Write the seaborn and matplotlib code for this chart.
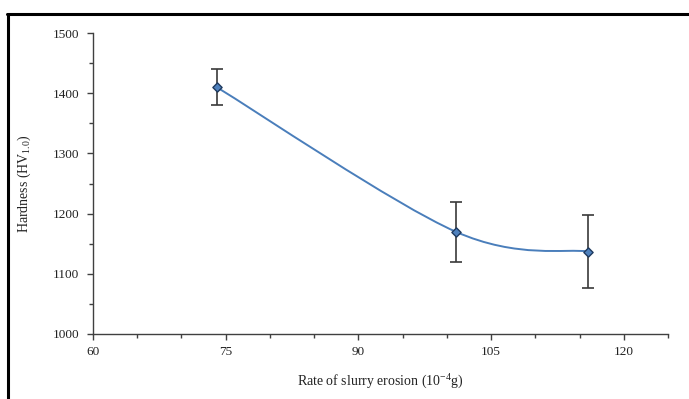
import numpy as np
import pandas as pd
import matplotlib
matplotlib.use("Agg")
import matplotlib.pyplot as plt
import seaborn as sns
from matplotlib.path import Path
from matplotlib.patches import PathPatch
from matplotlib.lines import Line2D
from matplotlib.ticker import MultipleLocator

# Data
erosion_rate = [74, 101, 116]          # x: rate of slurry erosion (10^-4 g)
hardness = [1410, 1170, 1137]          # y: hardness HV1.0
hardness_err = [30, 50, 60]            # error bar half-lengths

df = pd.DataFrame({"erosion": erosion_rate, "hardness": hardness, "err": hardness_err})

sns.set_theme(style="white")
plt.rcParams["font.family"] = ["Liberation Serif", "DejaVu Serif"]
plt.rcParams["mathtext.fontset"] = "custom"
plt.rcParams["mathtext.rm"] = "Liberation Serif"
plt.rcParams["mathtext.it"] = "Liberation Serif:italic"

fig = plt.figure(figsize=(6.89, 3.99), dpi=100)
ax = fig.add_axes([0.135, 0.163, 0.8345, 0.754])

line_color = "#4A7EBB"
axis_color = "#404040"

# Excel-style smoothed line: cubic Bezier segments through the points
pts = np.column_stack([df["erosion"], df["hardness"]]).astype(float)
n = len(pts)
verts = [pts[0]]
codes = [Path.MOVETO]
for i in range(n - 1):
    p_prev = pts[i - 1] if i > 0 else pts[i]
    p_next = pts[i + 2] if i + 2 < n else pts[i + 1]
    c1 = pts[i] + (pts[i + 1] - p_prev) / 6.0
    c2 = pts[i + 1] - (p_next - pts[i]) / 6.0
    verts += [c1, c2, pts[i + 1]]
    codes += [Path.CURVE4] * 3
ax.add_patch(PathPatch(Path(verts, codes), facecolor="none", edgecolor=line_color, lw=1.4, zorder=2))

# error bars
ax.errorbar(df["erosion"], df["hardness"], yerr=df["err"], fmt="none",
            ecolor="#3a3a3a", elinewidth=1.2, capsize=4, capthick=1.2, zorder=3)

# markers
sns.scatterplot(data=df, x="erosion", y="hardness", ax=ax, marker="D", s=22,
                color="#4F81BD", edgecolor="#1F3A5F", linewidth=1.0, zorder=4, legend=False)

ax.set_xlim(60, 125)
ax.set_ylim(1000, 1500)
ax.xaxis.set_major_locator(MultipleLocator(15))
ax.xaxis.set_minor_locator(MultipleLocator(5))
ax.yaxis.set_major_locator(MultipleLocator(100))
ax.yaxis.set_minor_locator(MultipleLocator(50))

for side in ["top", "right"]:
    ax.spines[side].set_visible(False)
for side in ["left", "bottom"]:
    ax.spines[side].set_color(axis_color)
    ax.spines[side].set_linewidth(1.0)

ax.tick_params(axis="both", which="both", bottom=True, left=True, top=False, right=False)
ax.tick_params(axis="both", which="major", direction="out", length=4, width=1.0,
               color=axis_color, labelsize=9.5, labelcolor="#222222")
ax.tick_params(axis="both", which="minor", direction="out", length=3, width=1.0,
               color=axis_color)
ax.tick_params(axis="x", which="major", pad=5)
ax.tick_params(axis="y", which="major", pad=6)

ax.set_xlabel(r"Rate of slurry erosion (10$^{\mathregular{-4}}$g)", fontsize=10, color="#222222", labelpad=10)
ax.set_ylabel(r"Hardness (HV$_{\mathregular{1.0}}$)", fontsize=10, color="#222222", labelpad=14)

# black border frame at top and left of the image
fig.add_artist(Line2D([0.011, 0.011], [0.0, 0.966], transform=fig.transFigure, color="black", lw=2.2))
fig.add_artist(Line2D([0.0095, 1.0], [0.965, 0.965], transform=fig.transFigure, color="black", lw=2.2))

fig.savefig("out.png", dpi=100)
